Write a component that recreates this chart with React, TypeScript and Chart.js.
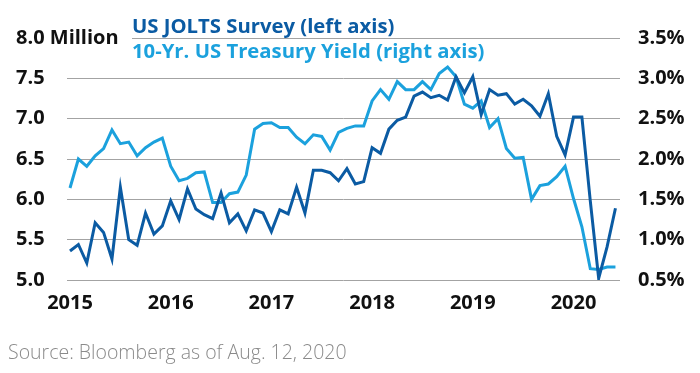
import React, { useEffect, useRef } from "react";
import { Chart, registerables } from "chart.js";

Chart.register(...registerables);

const START_YEAR = 2015;
const yearTicks = [2015, 2016, 2017, 2018, 2019, 2020];

// US JOLTS job openings, millions, Jan 2015 – Jun 2020
const joltsMillions = [
  5.36, 5.44, 5.21, 5.71, 5.59, 5.26, 6.15, 5.5, 5.43, 5.83, 5.57, 5.67,
  5.98, 5.75, 6.13, 5.88, 5.81, 5.76, 6.08, 5.71, 5.82, 5.61, 5.87, 5.83,
  5.6, 5.87, 5.82, 6.15, 5.83, 6.36, 6.36, 6.33, 6.23, 6.38, 6.19, 6.22,
  6.64, 6.57, 6.87, 6.98, 7.02, 7.28, 7.33, 7.26, 7.29, 7.23, 7.52, 7.32,
  7.52, 7.05, 7.36, 7.29, 7.31, 7.18, 7.24, 7.16, 7.03, 7.31, 6.78, 6.55,
  7.02, 7.02, 5.98, 5.02, 5.41, 5.89,
];

// 10-Yr US Treasury yield, %, Jan 2015 – Jun 2020
const treasuryYield = [
  1.64, 2.0, 1.91, 2.04, 2.13, 2.36, 2.19, 2.21, 2.04, 2.14, 2.21, 2.26,
  1.91, 1.73, 1.76, 1.83, 1.84, 1.46, 1.46, 1.57, 1.59, 1.8, 2.37, 2.44,
  2.45, 2.39, 2.39, 2.27, 2.19, 2.3, 2.28, 2.11, 2.33, 2.38, 2.41, 2.41,
  2.72, 2.86, 2.74, 2.96, 2.86, 2.86, 2.96, 2.86, 3.06, 3.14, 3.02, 2.68,
  2.63, 2.72, 2.39, 2.5, 2.13, 2.01, 2.02, 1.5, 1.67, 1.69, 1.78, 1.91,
  1.51, 1.16, 0.64, 0.63, 0.66, 0.66,
];

const leftTitle = "US JOLTS Survey (left axis)";
const rightTitle = "10-Yr. US Treasury Yield (right axis)";
const leftUnit = "Million";
const sourceText = "Source: Bloomberg as of Aug. 12, 2020";

const DARK = "#0b5ba3";
const LIGHT = "#1ba1dd";
const GRID = "#a3a3a3";
const FONT = "'Open Sans', 'DejaVu Sans', sans-serif";
const TICK_FONT = `bold 20px ${FONT}`;

const toPoints = (arr: number[]) =>
  arr.map((v, i) => ({ x: START_YEAR + i / 12, y: v }));

const overlayPlugin = {
  id: "overlay",
  afterDraw(chart: any) {
    const { ctx, chartArea, scales } = chart;
    ctx.save();
    const yTopPx = scales.y.getPixelForValue(8);
    // top gridline (starts after the "8.0 Million" label)
    const yTop = Math.round(yTopPx) + 0.5;
    ctx.strokeStyle = GRID;
    ctx.lineWidth = 1;
    ctx.beginPath();
    ctx.moveTo(124, yTop);
    ctx.lineTo(chartArea.right, yTop);
    ctx.stroke();
    // unit after the top tick label
    ctx.font = TICK_FONT;
    ctx.fillStyle = "#111";
    ctx.textAlign = "left";
    ctx.textBaseline = "middle";
    const w = ctx.measureText("8.0 ").width;
    ctx.fillText(leftUnit, scales.y.left + w, yTopPx);
    // titles
    ctx.textBaseline = "alphabetic";
    ctx.font = `bold 20.3px ${FONT}`;
    ctx.fillStyle = DARK;
    ctx.fillText(leftTitle, 124, 25);
    ctx.fillStyle = LIGHT;
    ctx.fillText(rightTitle, 124, 50);
    // source
    ctx.font = `300 19.5px ${FONT}`;
    ctx.fillStyle = "#8a8a8a";
    ctx.fillText(sourceText, 0, 351);
    ctx.restore();
  },
};

export default function App() {
  const ref = useRef<HTMLCanvasElement>(null);
  useEffect(() => {
    if (!ref.current) return;
    const chart = new Chart(ref.current, {
      type: "line",
      data: {
        datasets: [
          {
            label: leftTitle,
            data: toPoints(joltsMillions),
            yAxisID: "y",
            borderColor: DARK,
            borderWidth: 3,
            pointRadius: 0,
            tension: 0,
          },
          {
            label: rightTitle,
            data: toPoints(treasuryYield),
            yAxisID: "y1",
            borderColor: LIGHT,
            borderWidth: 3,
            pointRadius: 0,
            tension: 0,
          },
        ],
      },
      options: {
        animation: false,
        responsive: false,
        layout: { padding: { left: 8, top: 30, right: 0, bottom: 39 } },
        plugins: {
          legend: { display: false },
          tooltip: { enabled: false },
        },
        scales: {
          x: {
            type: "linear",
            min: 2015 - 3 / 100.7,
            max: 2015 + 550 / 100.7,
            afterBuildTicks: (scale: any) => {
              scale.ticks = yearTicks.map((v) => ({ value: v }));
            },
            afterFit: (scale: any) => {
              scale.height = 46;
            },
            ticks: {
              callback: (v: any) => String(v),
              font: { family: FONT, size: 20, weight: "bold" },
              color: "#111",
              padding: 11,
              maxRotation: 0,
              autoSkip: false,
            },
            grid: { display: false, drawTicks: false },
            border: { display: false },
          },
          y: {
            position: "left",
            min: 5,
            max: 8,
            afterFit: (scale: any) => {
              scale.width = 51;
            },
            ticks: {
              stepSize: 0.5,
              callback: (v: any) => Number(v).toFixed(1),
              font: { family: FONT, size: 20, weight: "bold" },
              color: "#111",
              crossAlign: "far",
              padding: 0,
            },
            grid: {
              color: (c: any) =>
                c.tick && c.tick.value === 8 ? "rgba(0,0,0,0)" : GRID,
              drawTicks: false,
              lineWidth: 1,
            },
            border: { display: false },
          },
          y1: {
            position: "right",
            min: 0.5,
            max: 3.5,
            afterFit: (scale: any) => {
              scale.width = 72;
            },
            ticks: {
              stepSize: 0.5,
              callback: (v: any) => Number(v).toFixed(1) + "%",
              font: { family: FONT, size: 20, weight: "bold" },
              color: "#111",
              crossAlign: "near",
              padding: 18,
            },
            grid: { display: false, drawTicks: false },
            border: { display: false },
          },
        },
      },
      plugins: [overlayPlugin],
    });
    return () => chart.destroy();
  }, []);
  return (
    <div style={{ width: 684, height: 357 }}>
      <canvas ref={ref} width={684} height={357} />
    </div>
  );
}
